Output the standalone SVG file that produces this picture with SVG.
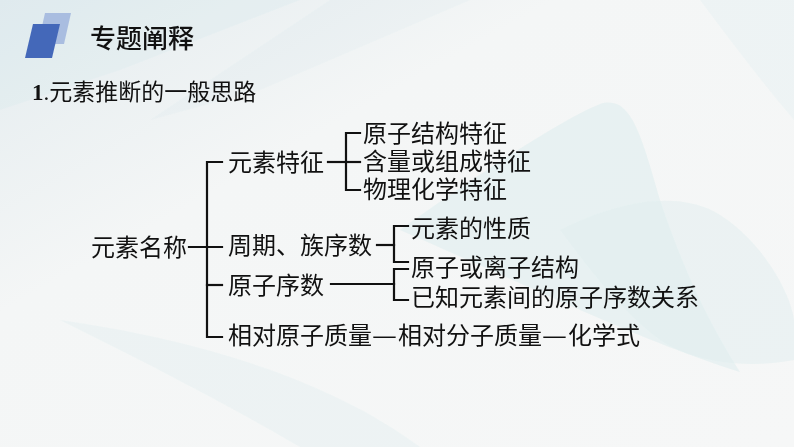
<svg xmlns="http://www.w3.org/2000/svg" width="794" height="447" viewBox="0 0 794 447">
  <defs>
    <linearGradient id="bg" x1="0" y1="0" x2="1" y2="1">
      <stop offset="0" stop-color="#e4ecef"/>
      <stop offset="0.35" stop-color="#f4f6f6"/>
      <stop offset="1" stop-color="#f6f7f7"/>
    </linearGradient>
    <linearGradient id="rule" x1="0" y1="0" x2="1" y2="0">
      <stop offset="0" stop-color="#1e3f9c"/>
      <stop offset="0.8" stop-color="#2a4da6"/>
      <stop offset="1" stop-color="#6f88c4"/>
    </linearGradient>
    <style>
      .t { font-family: "Noto Sans CJK SC", "Noto Sans", sans-serif; font-size: 24px; fill: #111; }
      .c { stroke: #111; stroke-width: 2.2; fill: none; stroke-linecap: square; }
      .sw { fill: #cfe8ea; }
    </style>
  </defs>

  <!-- background -->
  <rect x="0" y="0" width="794" height="447" fill="url(#bg)"/>
  <g id="background-swooshes" opacity="0.55">
    <path class="sw" d="M0 0 L300 0 L120 70 L0 110 Z" opacity="0.35"/>
    <path class="sw" d="M330 0 L470 0 L260 90 L150 120 Z" opacity="0.25"/>
    <path class="sw" d="M400 230 C470 180 560 120 600 104 C630 95 640 130 660 200 C690 290 720 340 740 372 C640 340 560 300 400 230 Z" opacity="0.6"/>
    <path class="sw" d="M560 230 C620 200 680 190 720 215 C760 240 790 290 794 320 L794 360 C740 370 690 360 660 340 C620 310 590 270 560 230 Z" opacity="0.5"/>
    <path class="sw" d="M60 320 C200 340 330 380 420 447 L300 447 C220 400 140 360 60 320 Z" opacity="0.35"/>
    <path class="sw" d="M700 0 L794 0 L794 120 C760 80 730 40 700 0 Z" opacity="0.3"/>
  </g>

  <!-- header -->
  <g id="header">
    <polygon points="45,13 71,13 64,44 38,44" fill="#a9bde0"/>
    <polygon points="33,24 60,24 52,58 25,58" fill="#4468b9"/>
    <line x1="72" y1="57" x2="794" y2="57" stroke="url(#rule)" stroke-width="2.5"/>
    <text x="90" y="47.5" font-family="'Noto Sans CJK SC', 'Noto Sans', sans-serif" font-size="26" font-weight="500" fill="#111">专题阐释</text>
  </g>

  <g id="heading">
    <text x="32" y="100" font-size="23" fill="#111"><tspan font-family="'Liberation Serif', serif" font-weight="bold">1</tspan><tspan font-family="'Liberation Serif', serif">.</tspan><tspan font-family="'Noto Sans CJK SC', sans-serif">元素推断的一般思路</tspan></text>
  </g>

  <!-- connectors -->
  <g id="connectors">
    <path class="c" d="M189 247 H222"/>
    <path class="c" d="M222 162 H207 V337 H222"/>
    <path class="c" d="M207 285 H222"/>
    <path class="c" d="M328 162 H346"/>
    <path class="c" d="M360 133 H346 V190 H360"/>
    <path class="c" d="M346 162 H360"/>
    <path class="c" d="M377 245 H394"/>
    <path class="c" d="M408 226 H394 V262 H408"/>
    <path class="c" d="M331 284 H394"/>
    <path class="c" d="M408 269 H394 V300 H408"/>
  </g>

  <!-- nodes -->
  <g id="node-yuansumingcheng"><text class="t" x="91" y="256">元素名称</text></g>
  <g id="node-yuansutezheng"><text class="t" x="228" y="171">元素特征</text></g>
  <g id="node-yuanzijiegou"><text class="t" x="363" y="142">原子结构特征</text></g>
  <g id="node-hanliang"><text class="t" x="363" y="170">含量或组成特征</text></g>
  <g id="node-wulihuaxue"><text class="t" x="363" y="198">物理化学特征</text></g>
  <g id="node-zhouqi"><text class="t" x="228" y="254">周期、族序数</text></g>
  <g id="node-xingzhi"><text class="t" x="411" y="237">元素的性质</text></g>
  <g id="node-yuanzixushu"><text class="t" x="228" y="294">原子序数</text></g>
  <g id="node-lizijiegou"><text class="t" x="411" y="276">原子或离子结构</text></g>
  <g id="node-guanxi"><text class="t" x="411" y="306">已知元素间的原子序数关系</text></g>
  <g id="node-xiangdui"><text class="t" x="228" y="344"><tspan x="228">相对原子质量</tspan><tspan x="372" textLength="25" lengthAdjust="spacingAndGlyphs">—</tspan><tspan x="398">相对分子质量</tspan><tspan x="542" textLength="25" lengthAdjust="spacingAndGlyphs">—</tspan><tspan x="568">化学式</tspan></text></g>
</svg>
